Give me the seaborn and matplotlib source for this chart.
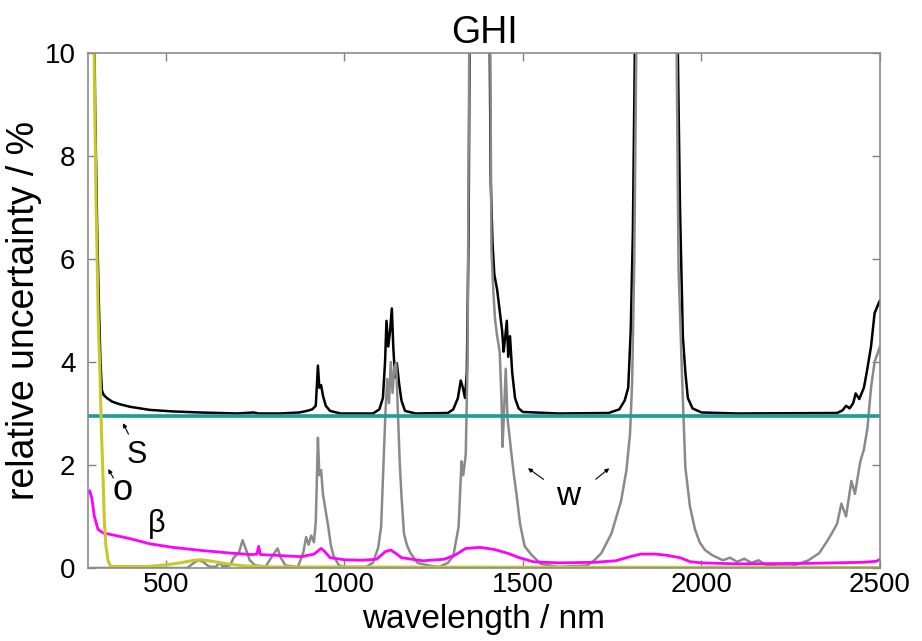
import matplotlib
matplotlib.use("Agg")
import matplotlib.pyplot as plt
import seaborn as sns
import pandas as pd

# total uncertainty (black)
total_wl = [280, 295, 302, 308, 313, 317, 321, 326, 335, 350, 371, 400, 455, 520, 595, 650,
            700, 745, 760, 820, 874, 895, 910, 920, 926, 930, 935, 940, 948, 960, 990, 1080,
            1098, 1108, 1114, 1118, 1123, 1128, 1133, 1137, 1142, 1147, 1153, 1160, 1170, 1200,
            1290, 1305, 1318, 1326, 1332, 1338, 1343, 1348, 1352, 1380, 1405, 1410, 1415, 1420,
            1428, 1435, 1442, 1446, 1450, 1455, 1459, 1464, 1470, 1478, 1488, 1500, 1600, 1740,
            1770, 1785, 1795, 1802, 1808, 1815, 1870, 1932, 1940, 1948, 1955, 1962, 1975, 2000,
            2100, 2380, 2395, 2405, 2415, 2425, 2432, 2442, 2455, 2463, 2475, 2485, 2500]
total_val = [40, 14, 9.0, 6.5, 5.0, 4.0, 3.45, 3.36, 3.3, 3.23, 3.18, 3.13, 3.07, 3.04, 3.02, 3.01,
             3.0, 3.02, 3.0, 3.0, 3.02, 3.05, 3.08, 3.15, 3.93, 3.5, 3.55, 3.35, 3.15, 3.05, 3.0, 3.0,
             3.08, 3.3, 4.0, 4.8, 4.3, 4.6, 5.04, 4.3, 3.7, 3.98, 3.6, 3.25, 3.05, 3.0,
             3.01, 3.08, 3.3, 3.64, 3.5, 3.3, 3.8, 6.5, 12, 40, 12, 7.5, 6.3, 5.7,
             5.4, 5.0, 4.6, 4.2, 4.45, 4.8, 4.1, 4.5, 3.8, 3.3, 3.1, 3.03, 3.0, 3.01,
             3.08, 3.25, 3.5, 4.6, 6.5, 11, 40, 11, 7.0, 4.5, 3.8, 3.3, 3.1, 3.02,
             3.0, 3.01, 3.06, 3.15, 3.1, 3.2, 3.39, 3.28, 3.5, 3.8, 4.3, 4.95, 5.2]

# calibration source S (teal)
source_wl = [280, 2500]
source_val = [2.95, 2.95]

# water vapour w (grey)
water_wl = [280, 560, 575, 590, 605, 620, 640, 650, 660, 680, 690, 705, 715, 725, 735, 750,
            780, 795, 805, 813, 822, 835, 870, 885, 893, 900, 907, 915, 920, 926, 930, 935,
            940, 948, 955, 962, 970, 985, 1000, 1060, 1080, 1095, 1103, 1110, 1115, 1120, 1125,
            1130, 1135, 1140, 1145, 1150, 1155, 1160, 1167, 1175, 1185, 1205, 1235, 1265, 1290,
            1305, 1320, 1328, 1333, 1340, 1345, 1350, 1380, 1408, 1412, 1417, 1422, 1428, 1435,
            1440, 1443, 1447, 1452, 1457, 1462, 1467, 1475, 1482, 1492, 1505, 1525, 1550, 1600,
            1680, 1700, 1720, 1748, 1775, 1790, 1800, 1806, 1812, 1818, 1870, 1930, 1936, 1945,
            1955, 1968, 1982, 1995, 2010, 2030, 2060, 2080, 2100, 2120, 2140, 2160, 2180, 2210,
            2250, 2280, 2300, 2330, 2350, 2365, 2380, 2392, 2405, 2420, 2430, 2445, 2455, 2465,
            2475, 2485, 2500]
water_val = [0.0, 0.0, 0.08, 0.15, 0.12, 0.03, 0.02, 0.1, 0.03, 0.05, 0.2, 0.3, 0.54, 0.35, 0.15, 0.05,
             0.03, 0.2, 0.3, 0.38, 0.2, 0.05, 0.02, 0.3, 0.6, 0.45, 0.63, 0.5, 0.9, 2.53, 1.8, 1.9,
             1.44, 1.1, 0.8, 0.45, 0.23, 0.05, 0.02, 0.02, 0.1, 0.4, 0.8, 2.07, 3.0, 3.67, 3.2,
             4.0, 3.4, 3.9, 3.98, 3.0, 2.07, 1.4, 0.67, 0.45, 0.29, 0.1, 0.05, 0.02, 0.1,
             0.23, 0.8, 2.07, 1.8, 2.2, 4.0, 10.5, 40, 11, 6.2, 5.4, 4.83, 4.5, 4.2,
             3.3, 2.35, 3.0, 3.87, 2.9, 2.6, 2.27, 1.8, 1.44, 0.86, 0.42, 0.25, 0.08, 0.02,
             0.05, 0.15, 0.29, 0.67, 1.3, 1.9, 2.6, 3.6, 6.0, 10.5, 40, 10.5, 5.8, 3.87,
             1.95, 1.19, 0.75, 0.5, 0.35, 0.25, 0.15, 0.2, 0.12, 0.18, 0.1, 0.15, 0.06, 0.03,
             0.03, 0.1, 0.15, 0.29, 0.5, 0.67, 0.86, 1.25, 1.0, 1.69, 1.44, 2.07, 2.3, 2.72,
             3.5, 4.0, 4.3]

# aerosol beta (magenta)
aerosol_wl = [280, 287, 293, 300, 310, 325, 360, 400, 455, 520, 600, 680, 740, 755, 760, 765,
              800, 850, 880, 915, 935, 945, 960, 1000, 1050, 1090, 1115, 1130, 1145, 1160, 1220,
              1280, 1310, 1340, 1380, 1420, 1460, 1490, 1530, 1600, 1700, 1760, 1800, 1830, 1870,
              1900, 1940, 1970, 2000, 2100, 2300, 2450, 2490, 2500]
aerosol_val = [1.44, 1.5, 1.35, 1.0, 0.75, 0.68, 0.63, 0.57, 0.47, 0.4, 0.34, 0.29, 0.26, 0.27, 0.42, 0.26,
               0.25, 0.23, 0.22, 0.27, 0.38, 0.32, 0.2, 0.16, 0.15, 0.17, 0.32, 0.35, 0.28, 0.2, 0.14,
               0.17, 0.25, 0.38, 0.4, 0.36, 0.28, 0.2, 0.12, 0.1, 0.11, 0.14, 0.22, 0.27, 0.27,
               0.25, 0.2, 0.12, 0.1, 0.08, 0.09, 0.11, 0.13, 0.17]

# ozone o (yellow)
ozone_wl = [280, 295, 300, 305, 311, 316, 320, 324, 328, 332, 338, 345, 450, 500, 540, 580,
            600, 630, 680, 720, 800, 2500]
ozone_val = [80, 14, 9.5, 7.0, 4.8, 3.7, 2.6, 1.8, 0.9, 0.45, 0.15, 0.03, 0.03, 0.06, 0.1, 0.15,
             0.16, 0.13, 0.07, 0.04, 0.02, 0.01]

x_ticks = [500, 1000, 1500, 2000, 2500]
y_ticks = [0, 2, 4, 6, 8, 10]

sns.set_style("ticks")
plt.rcParams["font.family"] = ["Liberation Sans", "DejaVu Sans"]
plt.rcParams["text.color"] = "black"
plt.rcParams["axes.labelcolor"] = "black"

fig = plt.figure(figsize=(9.22, 6.41), dpi=100)
ax = fig.add_axes([0.0954, 0.1139, 0.859, 0.8034])

sns.lineplot(x=total_wl, y=total_val, color="black", linewidth=1.8, ax=ax, sort=False)
sns.lineplot(x=water_wl, y=water_val, color="#8a8a8a", linewidth=1.8, ax=ax, sort=False)
sns.lineplot(x=source_wl, y=source_val, color="#1b9c9c", linewidth=2.6, ax=ax, sort=False)
sns.lineplot(x=aerosol_wl, y=aerosol_val, color="#ff00ff", linewidth=2.0, ax=ax, sort=False)
sns.lineplot(x=ozone_wl, y=ozone_val, color="#c8c828", linewidth=2.2, ax=ax, sort=False)

ax.set_xlim(282, 2500)
ax.set_ylim(0, 10)
ax.set_xticks(x_ticks)
ax.set_yticks(y_ticks)
ax.tick_params(direction="in", length=6, width=1, colors="#808080", labelcolor="black",
               labelsize=20, top=True, right=True)
ax.tick_params(axis="x", pad=3)
ax.tick_params(axis="y", pad=9)
for sp in ax.spines.values():
    sp.set_visible(True)
    sp.set_color("#8c8c8c")
    sp.set_linewidth(1.2)

ax.set_title("GHI", fontsize=27, pad=7, color="black")
ax.set_xlabel("wavelength / nm", fontsize=24)
ax.set_ylabel("relative uncertainty / %", fontsize=27)
ax.xaxis.set_label_coords(0.5, -0.07)
ax.yaxis.set_label_coords(-0.058, 0.5)

# component labels
ax.text(419, 2.2, "S", fontsize=22, ha="center", va="center")
ax.annotate("", xy=(377, 2.86), xytext=(399, 2.55),
            arrowprops=dict(arrowstyle="-|>", color="black", lw=0.8, mutation_scale=6))
ax.text(380, 1.5, "o", fontsize=26, ha="center", va="center")
ax.annotate("", xy=(335, 1.97), xytext=(357, 1.7),
            arrowprops=dict(arrowstyle="-|>", color="black", lw=0.8, mutation_scale=6))
ax.text(475, 0.85, "β", fontsize=22, ha="center", va="center")
ax.text(1628, 1.38, "w", fontsize=24, ha="center", va="center")
ax.annotate("", xy=(1508, 1.97), xytext=(1564, 1.69),
            arrowprops=dict(arrowstyle="-|>", color="black", lw=0.8, mutation_scale=6))
ax.annotate("", xy=(1748, 1.97), xytext=(1698, 1.69),
            arrowprops=dict(arrowstyle="-|>", color="black", lw=0.8, mutation_scale=6))

fig.savefig("out.png", dpi=100)
